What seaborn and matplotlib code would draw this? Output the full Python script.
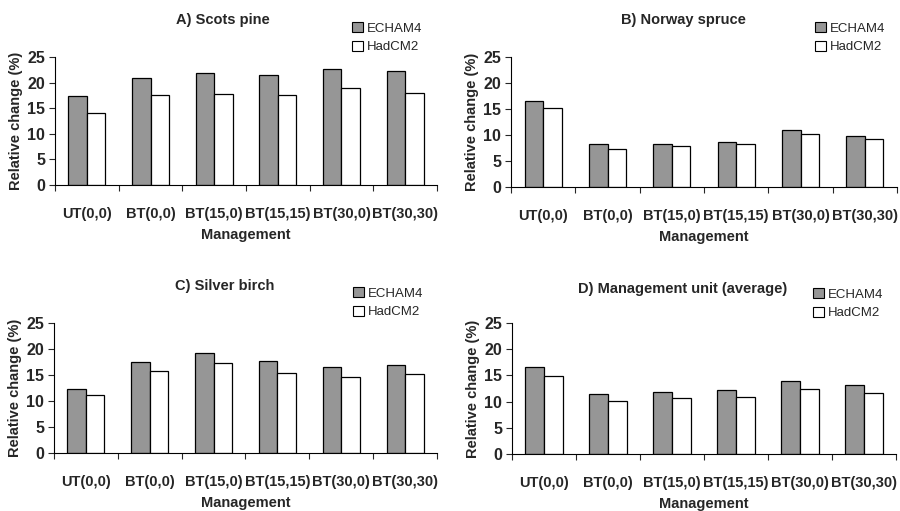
import numpy as np
import pandas as pd
import matplotlib
matplotlib.use('Agg')
import matplotlib.pyplot as plt
import seaborn as sns
from matplotlib.patches import Patch

sns.set_style('white')
plt.rcParams['font.family'] = ['Liberation Sans', 'DejaVu Sans']

managements = ['UT(0,0)', 'BT(0,0)', 'BT(15,0)', 'BT(15,15)', 'BT(30,0)', 'BT(30,30)']
models = ['ECHAM4', 'HadCM2']

# relative change (%)
pine_echam = [17.3, 20.9, 21.8, 21.4, 22.7, 22.2]
pine_had = [14.0, 17.5, 17.8, 17.6, 18.9, 18.0]
spruce_echam = [16.5, 8.2, 8.2, 8.7, 10.9, 9.8]
spruce_had = [15.2, 7.3, 7.8, 8.3, 10.1, 9.2]
birch_echam = [12.4, 17.5, 19.3, 17.7, 16.5, 17.0]
birch_had = [11.2, 15.8, 17.4, 15.3, 14.7, 15.1]
unit_echam = [16.6, 11.5, 11.9, 12.2, 13.9, 13.1]
unit_had = [14.8, 10.1, 10.6, 10.9, 12.5, 11.7]

titles = ['A) Scots pine', 'B) Norway spruce', 'C) Silver birch', 'D) Management unit (average)']
panels = [(pine_echam, pine_had), (spruce_echam, spruce_had),
          (birch_echam, birch_had), (unit_echam, unit_had)]

colors = {'ECHAM4': '#969696', 'HadCM2': 'white'}

W, H = 900, 511
fig = plt.figure(figsize=(9, 5.11), dpi=100)

# axes boxes in pixels: left, right, top, bottom
boxes = [(55, 437, 57, 185), (511, 897, 57, 187),
         (54, 437, 323, 453), (512, 896, 323, 454)]
title_pos = [(223, 20), (683, 20), (225, 286), (683, 289)]
legend_pos = [(352, 22), (815, 22), (353, 287), (813, 288)]

for i in range(4):
    l, r, t, b = boxes[i]
    ax = fig.add_axes([l / W, 1 - b / H, (r - l) / W, (b - t) / H])
    e, h = panels[i]
    df = pd.DataFrame({
        'Management': managements * 2,
        'Model': ['ECHAM4'] * 6 + ['HadCM2'] * 6,
        'Change': e + h,
    })
    sns.barplot(data=df, x='Management', y='Change', hue='Model',
                hue_order=models, palette=colors, width=0.58,
                edgecolor='black', linewidth=0.9, saturation=1,
                legend=False, ax=ax)
    ax.set_ylim(0, 25)
    ax.set_xlim(-0.5, 5.5)
    ax.set_yticks([0, 5, 10, 15, 20, 25])
    ax.set_xticks(np.arange(-0.5, 6, 1), minor=True)
    ax.tick_params(axis='x', which='major', length=0, pad=16)
    ax.tick_params(axis='x', which='minor', length=4, width=0.8, direction='out', bottom=True)
    ax.tick_params(axis='y', length=4, width=0.8, direction='out', left=True, pad=3)
    for lab in ax.get_xticklabels():
        lab.set_fontweight('bold')
        lab.set_fontsize(10.5)
    for lab in ax.get_yticklabels():
        lab.set_fontweight('bold')
        lab.set_fontsize(11.5)
    for s in ['top', 'right']:
        ax.spines[s].set_visible(False)
    for s in ['left', 'bottom']:
        ax.spines[s].set_color('black')
        ax.spines[s].set_linewidth(0.8)
    ax.set_xlabel('Management', fontsize=10.5, fontweight='bold', labelpad=5)
    ax.set_ylabel('Relative change (%)', fontsize=10.5, fontweight='bold', labelpad=3)

    tx, ty = title_pos[i]
    fig.text(tx / W, 1 - ty / H, titles[i], ha='center', va='center',
             fontsize=10.5, fontweight='bold')
    handles = [Patch(facecolor=colors[m], edgecolor='black', linewidth=0.8) for m in models]
    lx, ly = legend_pos[i]
    fig.legend(handles, models, loc='upper left', bbox_to_anchor=(lx / W, 1 - ly / H),
               frameon=False, fontsize=9.5, handlelength=0.8, handleheight=0.8,
               handletextpad=0.3, labelspacing=0.45, borderpad=0, borderaxespad=0)

fig.savefig('out.png', dpi=100)
